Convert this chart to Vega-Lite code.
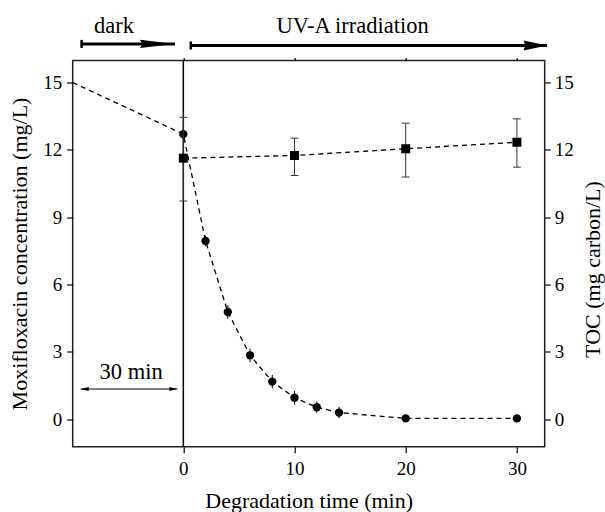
{
  "$schema": "https://vega.github.io/schema/vega-lite/v6.json",
  "width": 472,
  "height": 386.2,
  "autosize": {"type": "none"},
  "padding": {"left": 72.7, "top": 60.5, "right": 60.3, "bottom": 65.3},
  "datasets": {
    "moxi": [
      {"t": -9.95, "v": 15, "lo": null, "hi": null, "pt": false},
      {"t": 0, "v": 12.7, "lo": 12.45, "hi": 12.95, "pt": true},
      {"t": 2, "v": 7.94, "lo": 7.7, "hi": 8.18, "pt": true},
      {"t": 4, "v": 4.78, "lo": 4.48, "hi": 5.08, "pt": true},
      {"t": 6, "v": 2.85, "lo": 2.55, "hi": 3.15, "pt": true},
      {"t": 8, "v": 1.68, "lo": 1.38, "hi": 1.98, "pt": true},
      {"t": 10, "v": 0.96, "lo": 0.66, "hi": 1.26, "pt": true},
      {"t": 12, "v": 0.54, "lo": 0.29, "hi": 0.79, "pt": true},
      {"t": 14, "v": 0.3, "lo": 0.05, "hi": 0.55, "pt": true},
      {"t": 20, "v": 0.04, "lo": -0.01, "hi": 0.09, "pt": true},
      {"t": 30, "v": 0.04, "lo": -0.01, "hi": 0.09, "pt": true}
    ],
    "toc": [
      {"t": 0, "v": 11.63, "lo": 9.72, "hi": 13.45},
      {"t": 10, "v": 11.75, "lo": 10.86, "hi": 12.52},
      {"t": 20, "v": 12.05, "lo": 10.79, "hi": 13.19},
      {"t": 30, "v": 12.34, "lo": 11.23, "hi": 13.38}
    ],
    "vline": [{"t": 0, "v": -1.22, "v2": 15.98}],
    "arrows": [
      {"name": "dark", "t": -9.15, "t2": -0.75, "v": 16.72},
      {"name": "UV", "t": 0.67, "t2": 32.71, "v": 16.65}
    ],
    "labels": [
      {"text": "dark", "t": -6.24, "v": 17.2},
      {"text": "UV-A irradiation", "t": 15.23, "v": 17.22},
      {"text": "30 min", "t": -4.69, "v": 1.78}
    ],
    "span": [{"t": -9.23, "t2": -0.54, "v": 1.35}]
  },
  "layer": [
    {
      "data": {"name": "vline"},
      "mark": {"type": "rule", "color": "black", "strokeWidth": 1.5},
      "encoding": {
        "x": {"field": "t", "type": "quantitative", "scale": {"domain": [-9.95, 32.5], "nice": false, "zero": false},
              "axis": {"orient": "bottom", "values": [0, 10, 20, 30], "tickSize": 6, "labelPadding": 7, "title": "Degradation time (min)", "titleY": 61, "titleBaseline": "alphabetic"}},
        "y": {"field": "v", "type": "quantitative", "scale": {"domain": [-1.22, 15.98], "nice": false, "zero": false},
              "axis": {"orient": "left", "values": [0, 3, 6, 9, 12, 15], "tickSize": 6, "labelPadding": 5, "title": "Moxifloxacin concentration (mg/L)", "titleX": -46, "titleY": 193, "titleAngle": 270, "titleBaseline": "alphabetic", "titleAlign": "center"}},
        "y2": {"field": "v2"}
      }
    },
    {
      "data": {"name": "toc"},
      "mark": {"type": "line", "color": "black", "strokeWidth": 1.3, "strokeDash": [5, 4]},
      "encoding": {
        "x": {"field": "t", "type": "quantitative", "scale": {"domain": [-9.95, 32.5], "nice": false, "zero": false},
              "axis": {"orient": "top", "values": [0, 10, 20, 30], "labels": false, "tickSize": 3, "title": null}},
        "y": {"field": "v", "type": "quantitative", "scale": {"domain": [-1.22, 15.98], "nice": false, "zero": false},
              "axis": {"orient": "right", "values": [0, 3, 6, 9, 12, 15], "tickSize": 5.5, "labelPadding": 4, "title": "TOC (mg carbon/L)", "titleX": 55, "titleY": 208.5, "titleAngle": 270, "titleBaseline": "alphabetic", "titleAlign": "center"}}
      }
    },
    {
      "data": {"name": "moxi"},
      "mark": {"type": "line", "color": "black", "strokeWidth": 1.3, "strokeDash": [5, 4]},
      "encoding": {
        "x": {"field": "t", "type": "quantitative", "axis": null},
        "y": {"field": "v", "type": "quantitative", "axis": null}
      }
    },
    {
      "data": {"name": "moxi"},
      "transform": [{"filter": "datum.pt"}],
      "mark": {"type": "rule", "color": "black", "strokeWidth": 1},
      "encoding": {
        "x": {"field": "t", "type": "quantitative", "axis": null},
        "y": {"field": "lo", "type": "quantitative", "axis": null},
        "y2": {"field": "hi"}
      }
    },
    {
      "data": {"name": "moxi"},
      "transform": [{"filter": "datum.pt"}],
      "mark": {"type": "point", "shape": "circle", "filled": true, "color": "black", "opacity": 1, "size": 70},
      "encoding": {
        "x": {"field": "t", "type": "quantitative", "axis": null},
        "y": {"field": "v", "type": "quantitative", "axis": null}
      }
    },
    {
      "data": {"name": "toc"},
      "mark": {"type": "rule", "color": "#333", "strokeWidth": 1},
      "encoding": {
        "x": {"field": "t", "type": "quantitative", "axis": null},
        "y": {"field": "lo", "type": "quantitative", "axis": null},
        "y2": {"field": "hi"}
      }
    },
    {
      "data": {"name": "toc"},
      "mark": {"type": "point", "shape": "stroke", "filled": false, "color": "#333", "opacity": 1, "strokeWidth": 1, "size": 60},
      "encoding": {
        "x": {"field": "t", "type": "quantitative", "axis": null},
        "y": {"field": "lo", "type": "quantitative", "axis": null}
      }
    },
    {
      "data": {"name": "toc"},
      "mark": {"type": "point", "shape": "stroke", "filled": false, "color": "#333", "opacity": 1, "strokeWidth": 1, "size": 60},
      "encoding": {
        "x": {"field": "t", "type": "quantitative", "axis": null},
        "y": {"field": "hi", "type": "quantitative", "axis": null}
      }
    },
    {
      "data": {"name": "toc"},
      "mark": {"type": "point", "shape": "square", "filled": true, "color": "black", "opacity": 1, "size": 81},
      "encoding": {
        "x": {"field": "t", "type": "quantitative", "axis": null},
        "y": {"field": "v", "type": "quantitative", "axis": null}
      }
    },
    {
      "data": {"name": "arrows"},
      "mark": {"type": "rule", "color": "black", "strokeWidth": 3},
      "encoding": {
        "x": {"field": "t", "type": "quantitative", "axis": null},
        "x2": {"field": "t2"},
        "y": {"field": "v", "type": "quantitative", "axis": null}
      }
    },
    {
      "data": {"name": "arrows"},
      "transform": [{"filter": "datum.name === 'dark'"}],
      "mark": {"type": "point", "shape": "M-2,-0.24L0,0L-2,0.24L-1.85,0Z", "filled": true, "color": "black", "opacity": 1, "size": 1225},
      "encoding": {
        "x": {"field": "t2", "type": "quantitative", "axis": null},
        "y": {"field": "v", "type": "quantitative", "axis": null}
      }
    },
    {
      "data": {"name": "arrows"},
      "transform": [{"filter": "datum.name === 'UV'"}],
      "mark": {"type": "point", "shape": "M-2,-0.43L0,0L-2,0.43L-1.85,0Z", "filled": true, "color": "black", "opacity": 1, "size": 552},
      "encoding": {
        "x": {"field": "t2", "type": "quantitative", "axis": null},
        "y": {"field": "v", "type": "quantitative", "axis": null}
      }
    },
    {
      "data": {"name": "arrows"},
      "mark": {"type": "point", "shape": "M0,-1L0,1", "filled": false, "color": "black", "opacity": 1, "strokeWidth": 2.5, "size": 64},
      "encoding": {
        "x": {"field": "t", "type": "quantitative", "axis": null},
        "y": {"field": "v", "type": "quantitative", "axis": null}
      }
    },
    {
      "data": {"name": "labels"},
      "mark": {"type": "text", "color": "black", "fontSize": 22.5, "align": "center", "baseline": "alphabetic", "font": "Liberation Serif, Times New Roman, DejaVu Serif, serif"},
      "encoding": {
        "x": {"field": "t", "type": "quantitative", "axis": null},
        "y": {"field": "v", "type": "quantitative", "axis": null},
        "text": {"field": "text"}
      }
    },
    {
      "data": {"name": "span"},
      "mark": {"type": "rule", "color": "black", "strokeWidth": 1.2},
      "encoding": {
        "x": {"field": "t", "type": "quantitative", "axis": null},
        "x2": {"field": "t2"},
        "y": {"field": "v", "type": "quantitative", "axis": null}
      }
    },
    {
      "data": {"name": "span"},
      "mark": {"type": "point", "shape": "M-2,-0.5L0,0L-2,0.5Z", "filled": true, "color": "black", "opacity": 1, "size": 64},
      "encoding": {
        "x": {"field": "t2", "type": "quantitative", "axis": null},
        "y": {"field": "v", "type": "quantitative", "axis": null}
      }
    },
    {
      "data": {"name": "span"},
      "mark": {"type": "point", "shape": "M2,-0.5L0,0L2,0.5Z", "filled": true, "color": "black", "opacity": 1, "size": 64},
      "encoding": {
        "x": {"field": "t", "type": "quantitative", "axis": null},
        "y": {"field": "v", "type": "quantitative", "axis": null}
      }
    }
  ],
  "resolve": {
    "axis": {"x": "independent", "y": "independent"}
  },
  "config": {
    "font": "Liberation Serif, Times New Roman, DejaVu Serif, serif",
    "view": {"stroke": "#222", "strokeWidth": 1.5},
    "text": {"font": "Liberation Serif, Times New Roman, DejaVu Serif, serif"},
    "axis": {
      "domain": false,
      "grid": false,
      "tickColor": "black",
      "tickWidth": 1.2,
      "labelColor": "black",
      "titleColor": "black",
      "labelFont": "Liberation Serif, Times New Roman, DejaVu Serif, serif",
      "titleFont": "Liberation Serif, Times New Roman, DejaVu Serif, serif",
      "labelFontSize": 19,
      "titleFontSize": 22,
      "titleFontWeight": "normal"
    }
  }
}
